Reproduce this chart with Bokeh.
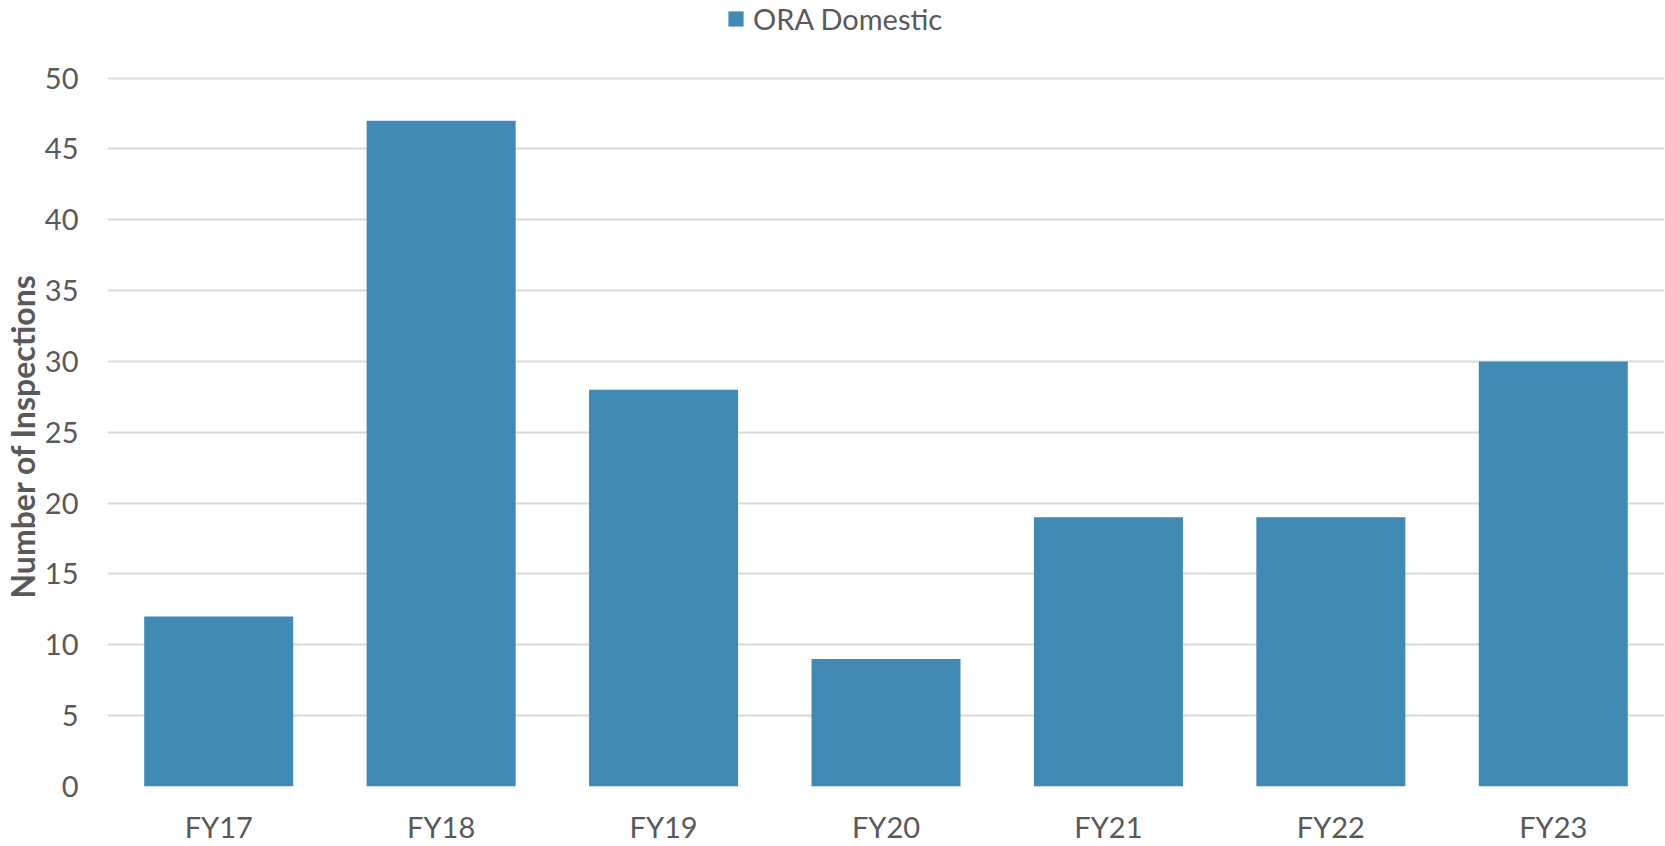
from bokeh.plotting import figure
from bokeh.models import ColumnDataSource, Legend, LegendItem, Range1d, FactorRange, FixedTicker, Title
from bokeh.embed import file_html
from bokeh.resources import INLINE

categories = ["FY17", "FY18", "FY19", "FY20", "FY21", "FY22", "FY23"]
inspections = [12, 47, 28, 9, 19, 19, 30]
series_name = "ORA Domestic"
y_ticks = [0, 5, 10, 15, 20, 25, 30, 35, 40, 45, 50]

BAR = "#418AB3"
TXT = "#595959"
GRID = "#D9D9D9"
FONT = "Lato"

src = ColumnDataSource(dict(cat=categories, val=inspections))

# frame reaches the top of the canvas so the legend sits inside it
p = figure(width=1665, height=846, x_range=FactorRange(*categories, range_padding=0),
           y_range=Range1d(0, 55.48), output_backend="svg", toolbar_location=None,
           min_border_left=106, min_border_right=1, min_border_top=0, min_border_bottom=56)
p.outline_line_color = None
r = p.vbar(x="cat", top="val", width=0.67, source=src, fill_color=BAR, line_color=None)

p.yaxis.ticker = FixedTicker(ticks=y_ticks)
for ax in (p.xaxis[0], p.yaxis[0]):
    ax.axis_line_color = None
    ax.major_tick_line_color = None
    ax.minor_tick_line_color = None
    ax.major_tick_out = 0
    ax.major_tick_in = 0
    ax.major_label_text_font = FONT
    ax.major_label_text_font_size = "29px"
    ax.major_label_text_color = TXT
p.yaxis.major_label_standoff = 29
p.xaxis.major_label_standoff = 22

ytitle = Title(text="Number of Inspections", align="left", offset=188,
               text_font=FONT, text_font_size="32px", text_font_style="bold",
               text_color=TXT, standoff=0)
p.add_layout(ytitle, "left")

p.xgrid.grid_line_color = None
p.ygrid.grid_line_color = GRID
p.ygrid.grid_line_width = 2

legend = Legend(items=[LegendItem(label=series_name, renderers=[r])],
                location=(619, 750), orientation="horizontal",
                glyph_width=19, glyph_height=19, label_standoff=8,
                padding=0, margin=0, border_line_alpha=0, background_fill_alpha=0,
                label_text_font=FONT, label_text_font_size="29px", label_text_color=TXT)
p.add_layout(legend, "center")

open("out.html", "w").write(file_html(p, INLINE))
